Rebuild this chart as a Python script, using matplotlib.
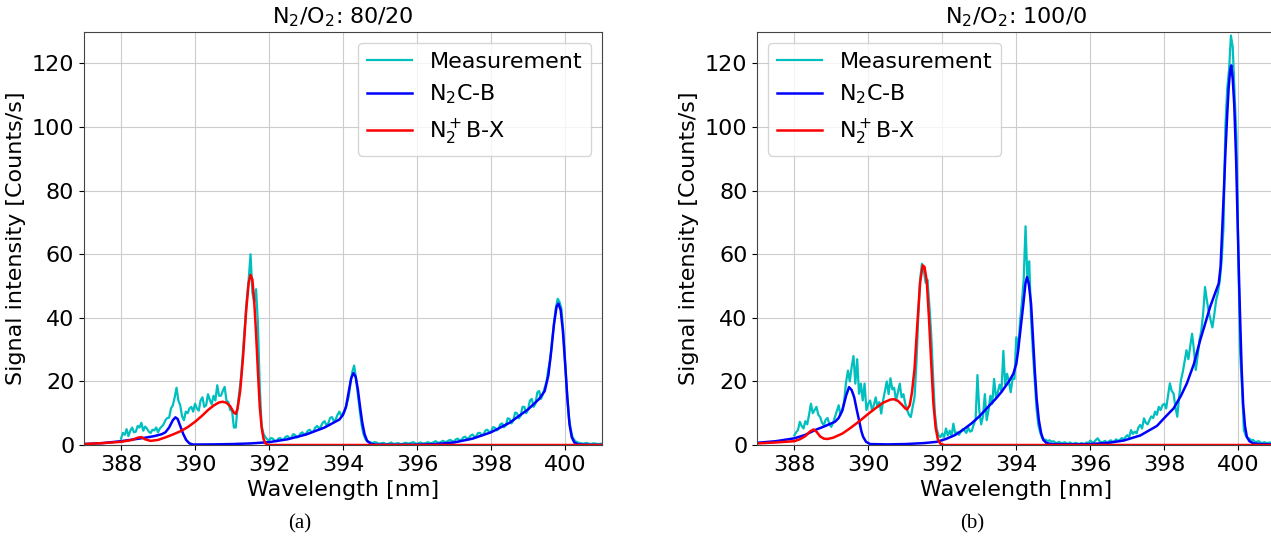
import numpy as np
import matplotlib
matplotlib.use("Agg")
import matplotlib.pyplot as plt

# measured spectra, sampled every 0.05 nm from 388.00 nm to 401.00 nm (one row per nm)
meas_start = 388.0
meas_step = 0.05

meas_8020 = [
    2.0, 3.8, 3.2, 5.0, 2.8, 4.5, 5.5, 4.0, 4.2, 6.0, 5.5, 7.0, 4.5, 5.8, 5.2, 4.2, 3.8, 4.8, 4.6, 5.5,
    4.0, 5.2, 5.8, 6.5, 7.8, 8.5, 8.6, 11.5, 12.5, 15.0, 18.0, 14.0, 12.5, 9.0, 7.8, 10.5, 10.0, 11.5, 12.0, 10.5,
    13.0, 11.5, 10.8, 14.0, 15.0, 12.0, 12.5, 16.0, 14.2, 12.8, 15.5, 14.0, 18.8, 15.5, 15.5, 17.0, 18.3, 14.0, 13.5, 11.0,
    10.8, 5.5, 5.5, 12.0, 17.0, 22.0, 30.0, 38.0, 46.0, 52.0, 60.0, 48.0, 45.0, 49.0, 38.0, 18.0, 6.0, 3.5, 2.5, 1.8,
    1.5, 2.2, 2.0, 1.4, 1.2, 2.0, 2.2, 1.6, 1.8, 2.6, 2.8, 2.2, 2.2, 3.4, 3.2, 2.4, 2.6, 3.6, 4.0, 3.2,
    3.6, 4.5, 4.8, 4.0, 4.2, 5.5, 6.0, 5.2, 5.8, 7.0, 7.5, 6.2, 6.8, 8.5, 8.8, 7.5, 8.0, 9.5, 10.5, 9.2,
    10.0, 11.0, 13.0, 15.0, 19.5, 23.0, 25.0, 21.0, 16.0, 11.0, 6.5, 3.5, 2.0, 1.2, 1.0, 0.8, 0.6, 0.9, 0.8, 0.5,
    0.4, 0.6, 0.7, 0.3, 0.3, 0.5, 0.8, 0.4, 0.4, 0.5, 0.6, 0.3, 0.3, 0.6, 0.7, 0.5, 0.5, 0.7, 0.9, 0.5,
    0.4, 0.6, 0.8, 0.5, 0.5, 0.7, 0.9, 0.6, 0.6, 0.9, 1.2, 0.8, 0.7, 1.0, 1.3, 1.0, 1.0, 1.4, 1.6, 1.2,
    1.2, 1.8, 2.0, 1.5, 1.6, 2.4, 2.6, 2.0, 2.2, 3.0, 3.3, 2.6, 2.8, 3.8, 3.8, 3.0, 3.4, 4.6, 4.8, 4.0,
    4.2, 5.6, 5.5, 4.6, 5.0, 6.5, 6.8, 5.6, 6.2, 8.4, 8.2, 6.8, 7.6, 10.2, 10.0, 8.4, 9.2, 12.0, 12.0, 10.0,
    11.2, 14.0, 14.5, 12.0, 13.0, 16.5, 17.0, 14.5, 16.0, 18.0, 20.0, 24.0, 27.0, 33.0, 38.0, 43.0, 46.0, 45.0, 43.0, 36.0,
    26.0, 17.0, 9.0, 5.0, 2.5, 1.6, 1.0, 0.8, 0.6, 0.5, 0.4, 0.6, 0.6, 0.4, 0.3, 0.5, 0.5, 0.4, 0.3, 0.4,
    0.4,
]

meas_1000 = [
    3.0, 4.0, 4.7, 7.3, 6.0, 5.2, 7.5, 6.5, 9.5, 13.0, 10.0, 11.0, 12.0, 9.5, 8.8, 7.0, 6.3, 8.0, 8.5, 6.5,
    5.7, 7.0, 8.8, 10.5, 12.5, 9.5, 10.9, 14.0, 19.8, 23.4, 20.0, 24.5, 28.0, 19.3, 27.0, 16.1, 19.3, 14.0, 19.3, 11.0,
    13.0, 14.0, 11.0, 12.5, 15.0, 12.0, 13.5, 9.9, 14.0, 17.0, 20.0, 16.0, 21.0, 17.5, 18.0, 14.0, 16.5, 19.3, 15.0, 16.0,
    13.0, 11.0, 9.5, 8.8, 12.0, 15.0, 25.5, 40.0, 52.0, 57.0, 55.0, 51.0, 52.0, 44.0, 35.0, 22.0, 10.0, 5.0, 3.0, 2.5,
    3.6, 2.5, 5.2, 3.0, 4.5, 2.8, 6.7, 3.5, 4.0, 3.2, 4.1, 5.0, 4.5, 3.8, 5.5, 4.2, 4.5, 6.5, 8.0, 22.0,
    10.8, 6.5, 9.0, 16.0, 7.8, 11.0, 15.5, 13.0, 20.8, 15.0, 16.6, 19.0, 17.0, 29.6, 19.0, 22.4, 20.0, 16.6, 21.0, 20.8,
    33.9, 30.0, 38.6, 44.8, 52.0, 68.8, 52.0, 57.8, 39.6, 29.0, 20.0, 11.0, 6.0, 3.8, 2.2, 1.8, 1.6, 1.2, 1.5, 1.0,
    1.2, 0.8, 0.6, 1.0, 0.7, 0.5, 0.9, 0.6, 0.4, 0.8, 0.5, 0.4, 0.7, 0.5, 0.3, 0.6, 0.5, 0.3, 0.8, 0.6,
    1.4, 0.8, 0.9, 1.6, 2.1, 1.2, 0.9, 1.0, 1.3, 0.7, 1.1, 1.5, 1.0, 1.2, 1.8, 1.3, 1.6, 2.2, 1.8, 2.5,
    3.1, 2.4, 4.7, 3.5, 4.2, 3.7, 5.5, 6.3, 5.2, 8.4, 7.0, 6.5, 7.9, 9.0, 8.5, 10.5, 9.5, 12.0, 11.0, 12.5,
    13.0, 11.5, 15.5, 19.4, 17.0, 16.2, 12.0, 8.9, 15.0, 20.4, 23.0, 26.5, 29.8, 27.0, 31.0, 35.0, 30.0, 23.6, 28.0, 33.0,
    36.0, 41.4, 49.7, 45.5, 42.0, 39.3, 37.0, 41.0, 45.5, 48.0, 51.8, 58.0, 68.6, 100.0, 112.0, 118.0, 128.8, 125.0, 110.0, 96.9,
    60.0, 28.8, 18.0, 4.7, 3.0, 2.1, 2.0, 1.5, 1.6, 1.0, 1.0, 1.2, 0.8, 0.6, 0.9, 0.7, 0.6, 0.8, 0.5, 0.6,
    0.5,
]

# fitted N2 C-B band, 80/20 mixture
cb_wl_8020 = [387.0, 387.5, 388.0, 388.3, 388.6, 388.9, 389.1, 389.2, 389.3, 389.4, 389.47, 389.53,
              389.6, 389.68, 389.76, 389.85, 389.95, 390.5, 391.0, 391.5, 392.0, 392.5, 393.0, 393.5,
              393.9, 394.0, 394.08, 394.15, 394.22, 394.28, 394.34, 394.4, 394.46, 394.52, 394.58,
              394.65, 394.75, 394.9, 395.5, 396.0, 396.5, 397.0, 397.5, 398.0, 398.5, 399.0, 399.3,
              399.45, 399.55, 399.63, 399.7, 399.77, 399.82, 399.88, 399.94, 400.0, 400.06, 400.12,
              400.18, 400.25, 400.35, 400.6, 401.0]
cb_8020 = [0.3, 0.6, 1.2, 1.7, 2.2, 2.8, 3.4, 4.0, 5.5, 7.8, 8.7, 8.2,
           6.0, 3.5, 1.6, 0.5, 0.15, 0.2, 0.3, 0.5, 0.9, 1.8, 3.3, 5.5,
           8.0, 9.5, 12.0, 16.5, 21.0, 22.6, 21.5, 17.5, 12.0, 7.0, 3.5,
           1.3, 0.4, 0.1, 0.05, 0.1, 0.3, 0.8, 2.0, 4.0, 7.0, 11.2, 14.5,
           17.0, 22.0, 30.0, 38.0, 43.5, 44.5, 42.5, 36.0, 26.0, 15.0, 6.5,
           2.5, 0.8, 0.2, 0.05, 0.0]

# fitted N2+ B-X band, 80/20 mixture
bx_wl_8020 = [387.0, 387.5, 388.0, 388.3, 388.45, 388.55, 388.65, 388.8, 389.0, 389.2, 389.4, 389.6,
              389.8, 390.0, 390.2, 390.35, 390.5, 390.65, 390.75, 390.85, 390.95, 391.05, 391.1,
              391.15, 391.22, 391.3, 391.38, 391.45, 391.5, 391.55, 391.6, 391.65, 391.7, 391.75,
              391.8, 391.85, 391.9, 391.95, 392.0, 401.0]
bx_8020 = [0.3, 0.6, 1.0, 1.6, 2.3, 2.5, 1.8, 1.3, 1.6, 2.4, 3.3, 4.3,
           5.6, 7.3, 9.3, 11.0, 12.4, 13.4, 13.6, 13.3, 12.2, 10.2, 9.8,
           11.5, 17.0, 28.0, 42.0, 51.0, 53.5, 52.0, 45.0, 35.0, 23.0, 12.0,
           5.5, 2.0, 0.6, 0.1, 0.0, 0.0]

# fitted N2 C-B band, 100/0 mixture
cb_wl_1000 = [387.0, 387.5, 388.0, 388.3, 388.56, 388.8, 389.1, 389.2, 389.3, 389.4, 389.48, 389.55,
              389.62, 389.69, 389.75, 389.81, 389.86, 389.94, 390.05, 390.5, 391.0, 391.5, 391.85,
              392.1, 392.34, 392.55, 392.79, 393.0, 393.24, 393.45, 393.6, 393.8, 393.92, 394.0,
              394.05, 394.12, 394.19, 394.25, 394.29, 394.34, 394.4, 394.45, 394.5, 394.55, 394.61,
              394.67, 394.73, 394.82, 394.95, 395.5, 396.0, 396.5, 396.9, 397.35, 397.8, 398.0,
              398.25, 398.45, 398.61, 398.8, 398.97, 399.1, 399.24, 399.38, 399.47, 399.52, 399.56,
              399.61, 399.65, 399.7, 399.74, 399.78, 399.81, 399.85, 399.89, 399.94, 399.98, 400.02,
              400.05, 400.09, 400.13, 400.18, 400.23, 400.3, 400.41, 400.6, 401.0]
cb_1000 = [0.7, 1.2, 2.1, 3.2, 4.7, 5.8, 7.3, 8.5, 10.9, 15.5, 18.2, 17.3,
           15.0, 11.0, 7.8, 4.5, 2.6, 1.0, 0.3, 0.2, 0.3, 0.6, 1.0,
           1.9, 3.1, 4.7, 6.8, 9.0, 12.0, 14.6, 16.7, 20.0, 22.4, 25.5,
           29.7, 37.0, 44.3, 51.0, 52.8, 50.5, 44.3, 34.0, 23.4, 14.5, 7.8,
           3.8, 1.6, 0.6, 0.3, 0.2, 0.3, 0.7, 1.4, 3.0, 6.0, 8.5,
           11.5, 15.5, 19.4, 25.5, 33.0, 38.0, 43.5, 48.0, 50.8, 56.0, 66.5,
           80.0, 91.6, 104.0, 112.6, 118.0, 119.4, 115.0, 107.0, 90.0, 70.7, 52.0,
           39.3, 24.0, 13.0, 6.0, 2.6, 1.2, 0.5, 0.3, 0.2]

# fitted N2+ B-X band, 100/0 mixture
bx_wl_1000 = [387.0, 387.5, 388.0, 388.15, 388.3, 388.42, 388.52, 388.6, 388.7, 388.8, 388.9, 389.05,
              389.3, 389.5, 389.75, 390.0, 390.2, 390.4, 390.6, 390.7, 390.8, 390.9, 391.0, 391.05,
              391.12, 391.18, 391.25, 391.32, 391.4, 391.47, 391.52, 391.58, 391.64, 391.7, 391.76,
              391.82, 391.88, 391.95, 392.05, 401.0]
bx_1000 = [0.5, 0.8, 1.2, 1.8, 2.8, 4.2, 4.9, 4.2, 2.7, 2.0, 1.9, 2.3,
           3.6, 5.2, 7.4, 9.8, 11.6, 13.3, 14.3, 14.4, 13.9, 12.8, 11.5, 11.2,
           12.5, 16.5, 24.0, 37.0, 51.0, 56.5, 56.0, 51.6, 40.0, 26.0, 13.0,
           5.5, 1.8, 0.4, 0.0, 0.0]

titles = [r"N$_2$/O$_2$: 80/20", r"N$_2$/O$_2$: 100/0"]
captions = ["(a)", "(b)"]
legend_locs = ["upper right", "upper left"]

plt.rcParams["font.size"] = 16

fig = plt.figure(figsize=(12.71, 5.40), dpi=100)
ax1 = fig.add_axes([0.0661, 0.1759, 0.4076, 0.7654])
ax2 = fig.add_axes([0.5958, 0.1759, 0.4076, 0.7654])

panels = [
    (ax1, meas_8020, cb_wl_8020, cb_8020, bx_wl_8020, bx_8020),
    (ax2, meas_1000, cb_wl_1000, cb_1000, bx_wl_1000, bx_1000),
]

for i, (ax, meas, cb_wl, cb, bx_wl, bx) in enumerate(panels):
    wl = meas_start + meas_step * np.arange(len(meas))
    ax.plot(wl, meas, color="c", lw=1.6, label="Measurement")
    ax.plot(cb_wl, cb, color="b", lw=1.8, label=r"N$_2$C-B")
    ax.plot(bx_wl, bx, color="r", lw=1.8, label=r"N$_2^+$B-X")
    ax.set_xlim(387, 401)
    ax.set_ylim(0, 130)
    ax.set_xticks(np.arange(388, 401, 2))
    ax.set_yticks(np.arange(0, 121, 20))
    ax.grid(True, color="#cccccc")
    for sp in ax.spines.values():
        sp.set_color("#444444")
    ax.set_xlabel("Wavelength [nm]")
    ax.set_ylabel("Signal intensity [Counts/s]")
    ax.set_title(titles[i], fontsize=16)
    ax.legend(loc=legend_locs[i])

fig.text(0.236, 0.03, captions[0], ha="center", va="center",
         family="Liberation Serif", fontsize=15)
fig.text(0.765, 0.03, captions[1], ha="center", va="center",
         family="Liberation Serif", fontsize=15)

fig.savefig("out.png", dpi=100)
